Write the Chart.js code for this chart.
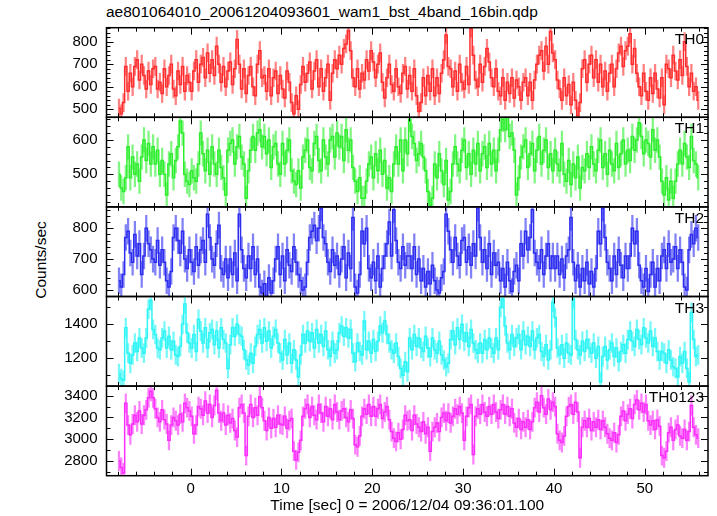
<!DOCTYPE html>
<html>
<head>
<meta charset="utf-8">
<script src="https://cdn.jsdelivr.net/npm/chart.js@4.4.0/dist/chart.umd.min.js"></script>
<style>
body { margin: 0; background: #fff; }
#wrap { position: relative; width: 717px; height: 516px; font-family: "Liberation Sans", Arial, sans-serif; color: #000; }
#wrap canvas { position: absolute; left: 0; top: 0; }
#title { position: absolute; left: 106px; top: 3px; font-size: 15.5px; white-space: nowrap; }
#ylab { position: absolute; left: 41px; top: 260px; font-size: 15.5px; white-space: nowrap; transform: translate(-50%, -50%) rotate(-90deg); }
</style>
</head>
<body>
<div id="wrap">
  <div id="title">ae801064010_20061204093601_wam1_bst_4band_16bin.qdp</div>
  <div id="ylab">Counts/sec</div>
  <canvas id="p0" width="717" height="516"></canvas>
  <canvas id="p1" width="717" height="516"></canvas>
  <canvas id="p2" width="717" height="516"></canvas>
  <canvas id="p3" width="717" height="516"></canvas>
  <canvas id="p4" width="717" height="516"></canvas>
</div>
<script>
// 0.25 s bins, first bin starts at -8 s (64 s of burst data)
var binStart = -8;
var binWidth = 0.25;

var th0 = [
  505, 480, 530, 690, 580, 660, 600, 690, 720, 630, 700, 650, 590, 670, 610, 680,
  690, 590, 620, 570, 680, 600, 650, 700, 590, 560, 670, 610, 690, 580, 650, 620,
  580, 670, 720, 620, 700, 730, 640, 750, 660, 720, 650, 780, 700, 620, 690, 600,
  670, 710, 610, 680, 810, 700, 590, 680, 570, 650, 690, 600, 560, 700, 760, 640,
  650, 580, 680, 560, 640, 670, 570, 650, 590, 550, 670, 620, 530, 480, 560, 500,
  610, 690, 620, 660, 710, 590, 670, 720, 600, 680, 580, 640, 700, 540, 660, 720,
  680, 740, 700, 770, 790, 850, 760, 640, 600, 680, 590, 660, 630, 720, 670, 760,
  710, 640, 700, 750, 620, 550, 640, 700, 610, 580, 680, 600, 570, 660, 690, 590,
  650, 580, 680, 560, 490, 530, 640, 560, 650, 580, 680, 560, 640, 570, 660, 720,
  830, 690, 680, 600, 670, 580, 700, 620, 590, 690, 610, 860, 740, 630, 600, 700,
  620, 690, 770, 710, 640, 600, 680, 580, 560, 640, 540, 620, 570, 640, 550, 630,
  600, 540, 620, 640, 560, 620, 540, 630, 700, 740, 760, 670, 780, 700, 845, 750,
  720, 630, 590, 540, 640, 560, 610, 520, 620, 540, 470, 530, 680, 720, 620, 700,
  740, 640, 720, 620, 700, 600, 670, 580, 660, 700, 600, 680, 750, 780, 690, 760,
  780, 835, 700, 770, 660, 600, 560, 660, 580, 540, 640, 570, 660, 590, 550, 640,
  520, 700, 680, 640, 740, 670, 630, 720, 650, 800, 690, 600, 660, 580, 600, 540
];

var th1 = [
  500, 460, 450, 490, 580, 490, 550, 500, 530, 480, 550, 600, 540, 590, 530, 580,
  530, 570, 500, 540, 500, 440, 530, 560, 490, 540, 580, 655, 620, 500, 480, 470,
  510, 490, 480, 530, 620, 560, 510, 570, 500, 580, 530, 500, 570, 520, 490, 440,
  570, 590, 600, 530, 580, 610, 550, 530, 430, 510, 570, 610, 570, 620, 630, 580,
  610, 560, 600, 520, 580, 590, 530, 500, 590, 530, 570, 600, 510, 480, 470, 510,
  460, 550, 570, 600, 520, 510, 590, 610, 540, 510, 600, 550, 530, 600, 610, 550,
  620, 580, 610, 540, 630, 570, 600, 520, 480, 450, 490, 430, 430, 480, 530, 550,
  490, 560, 510, 570, 500, 540, 460, 490, 450, 530, 580, 530, 600, 510, 600, 560,
  660, 610, 590, 540, 560, 590, 550, 510, 450, 410, 430, 530, 490, 560, 510, 470,
  540, 425, 450, 530, 580, 530, 510, 570, 600, 520, 560, 500, 570, 530, 590, 510,
  560, 580, 520, 590, 530, 570, 510, 570, 630, 660, 630, 665, 610, 620, 570, 440,
  490, 550, 580, 600, 520, 560, 590, 510, 570, 610, 530, 570, 600, 520, 560, 510,
  570, 530, 510, 590, 500, 480, 540, 470, 530, 490, 550, 460, 520, 510, 560, 520,
  580, 530, 510, 570, 600, 520, 560, 500, 570, 530, 510, 590, 520, 560, 600, 530,
  570, 540, 610, 570, 600, 650, 610, 560, 600, 590, 550, 630, 570, 600, 550, 480,
  440, 490, 425, 480, 430, 480, 530, 570, 530, 590, 550, 520, 610, 540, 530, 490
];

var th2 = [
  630, 610, 650, 770, 790, 720, 690, 780, 710, 750, 650, 710, 800, 750, 730, 700,
  690, 760, 680, 730, 690, 630, 610, 660, 770, 800, 760, 720, 790, 700, 670, 730,
  690, 660, 740, 680, 730, 760, 690, 845, 770, 700, 680, 750, 810, 670, 650, 700,
  640, 700, 650, 720, 630, 845, 730, 670, 640, 710, 670, 740, 650, 700, 610, 590,
  620, 580, 640, 590, 630, 700, 740, 650, 710, 630, 730, 680, 660, 740, 690, 650,
  630, 600, 610, 690, 770, 790, 810, 760, 800, 865, 770, 750, 690, 660, 730, 680,
  710, 650, 700, 740, 640, 720, 670, 835, 610, 590, 650, 790, 750, 800, 670, 640,
  690, 630, 710, 610, 670, 710, 750, 820, 710, 860, 760, 690, 670, 740, 680, 710,
  710, 670, 740, 650, 700, 630, 670, 610, 660, 620, 680, 630, 600, 590, 640, 660,
  845, 790, 730, 690, 770, 710, 680, 760, 770, 690, 740, 680, 750, 710, 865, 770,
  690, 730, 670, 750, 650, 720, 680, 690, 630, 670, 610, 690, 630, 595, 660, 680,
  630, 750, 710, 790, 730, 770, 860, 720, 690, 670, 730, 650, 710, 750, 670, 710,
  670, 710, 650, 700, 640, 710, 730, 835, 690, 630, 680, 610, 670, 630, 690, 620,
  660, 610, 670, 790, 750, 865, 770, 690, 670, 630, 710, 650, 730, 680, 640, 710,
  670, 710, 800, 750, 790, 680, 630, 610, 670, 595, 650, 690, 610, 670, 630, 710,
  730, 670, 750, 690, 700, 740, 670, 730, 690, 610, 600, 730, 780, 750, 800, 770
];

var th3 = [
  1110, 1080, 1070, 1380, 1230, 1170, 1220, 1290, 1240, 1320, 1260, 1230, 1320, 1490, 1540, 1370,
  1340, 1260, 1250, 1320, 1360, 1260, 1330, 1250, 1300, 1220, 1210, 1270, 1400, 1520, 1350, 1290,
  1260, 1340, 1240, 1430, 1360, 1290, 1380, 1260, 1350, 1370, 1280, 1360, 1260, 1380, 1310, 1290,
  1140, 1280, 1380, 1330, 1400, 1340, 1330, 1250, 1190, 1160, 1230, 1170, 1270, 1340, 1370, 1290,
  1380, 1300, 1360, 1260, 1330, 1370, 1290, 1230, 1190, 1310, 1220, 1290, 1170, 1250, 1190, 1090,
  1220, 1340, 1290, 1360, 1300, 1350, 1260, 1370, 1290, 1340, 1270, 1360, 1250, 1210, 1300, 1230,
  1250, 1350, 1390, 1330, 1380, 1320, 1370, 1230, 1180, 1290, 1240, 1220, 1420, 1250, 1300, 1230,
  1310, 1240, 1300, 1390, 1350, 1420, 1340, 1290, 1250, 1230, 1290, 1210, 1140, 1100, 1180, 1120,
  1320, 1250, 1340, 1270, 1320, 1260, 1240, 1330, 1260, 1210, 1320, 1250, 1230, 1300, 1220, 1190,
  1150, 1170, 1310, 1360, 1280, 1380, 1310, 1400, 1300, 1350, 1270, 1370, 1290, 1250, 1230, 1290,
  1230, 1310, 1250, 1320, 1260, 1230, 1320, 1250, 1500, 1550, 1390, 1290, 1250, 1340, 1270, 1320,
  1340, 1250, 1360, 1280, 1330, 1270, 1360, 1250, 1320, 1340, 1240, 1210, 1280, 1190, 1250, 1530,
  1440, 1260, 1220, 1280, 1200, 1290, 1230, 1220, 1550, 1310, 1250, 1220, 1300, 1240, 1310, 1260,
  1230, 1290, 1200, 1270, 1060, 1210, 1270, 1190, 1250, 1290, 1210, 1260, 1180, 1240, 1280, 1230,
  1310, 1360, 1300, 1270, 1370, 1310, 1280, 1380, 1320, 1290, 1360, 1270, 1320, 1240, 1190, 1240,
  1230, 1170, 1250, 1190, 1150, 1140, 1090, 1210, 1170, 1240, 1140, 1060, 1470, 1310, 1210, 1220
];

var th0123 = [
  2800, 2740, 2690, 3330, 3130, 3040, 3140, 3220, 3160, 3260, 3140, 3220, 3270, 3380, 3440, 3380,
  3280, 3200, 3160, 3270, 3180, 3140, 2990, 3130, 3200, 3170, 3130, 3230, 3160, 3330, 3290, 3260,
  3210, 3050, 3130, 3300, 3280, 3220, 3350, 3240, 3320, 3200, 3310, 3450, 3240, 3170, 3240, 3130,
  3220, 3150, 3190, 3080, 3020, 3290, 3320, 3240, 2850, 3210, 3320, 3200, 3290, 3220, 3390, 3290,
  3170, 3080, 3200, 3100, 3190, 3110, 3220, 3140, 3130, 3210, 3100, 3170, 3190, 2890, 2810, 2880,
  2990, 3210, 3280, 3320, 3200, 3300, 3220, 3180, 3320, 3240, 3160, 3300, 3210, 3280, 3180, 3320,
  3250, 3180, 3260, 3280, 3200, 3160, 3270, 3190, 2950, 2930, 3030, 3210, 3280, 3230, 3320, 3210,
  3300, 3210, 3280, 3320, 3190, 3250, 3300, 3180, 3070, 3010, 2980, 3060, 3000, 3090, 3220, 3170,
  3180, 3080, 3220, 3140, 3110, 3070, 3160, 3050, 3110, 2890, 3070, 3110, 3150, 3070, 3200, 3240,
  3170, 3240, 3150, 3210, 3280, 3230, 3300, 3240, 2990, 3210, 3290, 3320, 2860, 3210, 3280, 3230,
  3320, 3250, 3210, 3300, 3230, 3320, 3250, 3190, 3270, 3320, 3230, 3300, 3210, 3280, 3150, 3110,
  3190, 3090, 3160, 3110, 3180, 3090, 3160, 3290, 3340, 3250, 3400, 3290, 3230, 3370, 3270, 3340,
  3300, 3050, 2990, 2970, 3030, 3210, 3300, 3320, 3230, 3340, 3250, 2830, 3110, 3170, 3110, 3190,
  3080, 3160, 3110, 3180, 3090, 3170, 3110, 3050, 3010, 2990, 3060, 2970, 3040, 3210, 3260, 3170,
  3230, 3280, 3190, 3320, 3360, 3270, 3330, 3250, 3320, 3170, 3130, 3170, 3090, 3180, 3120, 2850,
  2830, 2890, 3060, 3110, 2990, 3090, 3130, 3030, 3010, 3090, 2990, 3070, 3310, 3110, 3040, 3010
];

// typical 1-sigma error bar size (counts/sec)
var errors = [40, 36, 42, 56, 88];

var panelNames = ["TH0", "TH1", "TH2", "TH3", "TH0123"];
var panelColors = ["rgb(255,45,45)", "rgb(45,238,45)", "rgb(45,45,240)", "rgb(45,245,245)", "rgb(250,45,250)"];
var barColors = ["rgba(255,45,45,0.6)", "rgba(45,238,45,0.6)", "rgba(45,45,240,0.6)", "rgba(45,245,245,0.65)", "rgba(250,45,250,0.6)"];

var xTicks = [0, 10, 20, 30, 40, 50];
var th0Ticks = [500, 600, 700, 800];
var th1Ticks = [500, 600];
var th2Ticks = [600, 700, 800];
var th3Ticks = [1200, 1400];
var th0123Ticks = [2800, 3000, 3200, 3400];

var tickFont = { family: "'Liberation Sans', Arial, sans-serif", size: 15 };

// inward ticks on all four sides, frame box and panel name
var qdpFrame = {
    id: 'qdpFrame',
    afterDraw: function(chart, args, opts) {
        var ctx = chart.ctx;
        var a = chart.chartArea;
        var xs = chart.scales.x;
        var ys = chart.scales.y;
        ctx.save();
        ctx.strokeStyle = '#000';
        ctx.lineWidth = 1;
        ctx.beginPath();
        for (var v = -8; v <= 56; v += 2) {
            var px = Math.round(xs.getPixelForValue(v)) + 0.5;
            var len = (v % 10 === 0) ? 7 : 4;
            ctx.moveTo(px, a.bottom); ctx.lineTo(px, a.bottom - len);
            ctx.moveTo(px, a.top); ctx.lineTo(px, a.top + len);
        }
        var start = Math.ceil(ys.min / opts.minor) * opts.minor;
        for (var w = start; w <= ys.max; w += opts.minor) {
            var py = Math.round(ys.getPixelForValue(w)) + 0.5;
            var l2 = (w % opts.major === 0) ? 7 : 4;
            ctx.moveTo(a.left, py); ctx.lineTo(a.left + l2, py);
            ctx.moveTo(a.right, py); ctx.lineTo(a.right - l2, py);
        }
        ctx.stroke();
        ctx.lineWidth = 1.5;
        ctx.strokeRect(a.left, a.top, a.right - a.left, a.bottom - a.top);
        ctx.fillStyle = '#000';
        ctx.font = "15.5px 'Liberation Sans', Arial, sans-serif";
        ctx.textAlign = 'right';
        ctx.textBaseline = 'alphabetic';
        ctx.fillText(opts.label, a.right - 4, a.top + 16);
        ctx.restore();
    }
};

function makePanel(id, vals, err, color, barColor, yMin, yMax, yTicks, minor, major, name, top, bottom, showX) {
    var pts = [];
    var bars = [];
    for (var i = 0; i < vals.length; i++) {
        var t = binStart + binWidth * (i + 0.5);
        pts.push({x: t, y: vals[i]});
        bars.push({x: t, y: [vals[i] - err, vals[i] + err]});
    }
    return new Chart(document.getElementById(id), {
        data: {
            datasets: [
                { type: 'line', data: pts, borderColor: color, borderWidth: 1.5,
                  pointRadius: 0, stepped: 'middle', order: 0, clip: 0 },
                { type: 'bar', data: bars, backgroundColor: barColor, borderWidth: 0,
                  barThickness: 1.6, grouped: false, order: 1, clip: 0 }
            ]
        },
        options: {
            responsive: false,
            animation: false,
            devicePixelRatio: 1,
            layout: { padding: { left: 0, right: 9, top: top, bottom: showX ? 0 : 516 - bottom } },
            plugins: {
                legend: { display: false },
                tooltip: { enabled: false },
                qdpFrame: { label: name, minor: minor, major: major }
            },
            scales: {
                x: {
                    type: 'linear', min: -9.25, max: 56.95, display: showX, offset: false,
                    grid: { display: false, drawTicks: false, offset: false },
                    border: { display: false },
                    afterBuildTicks: function(s) { s.ticks = xTicks.map(function(v) { return {value: v}; }); },
                    afterFit: function(s) { s.height = showX ? 516 - bottom : 0; },
                    ticks: { color: '#000', font: tickFont, padding: 4, maxRotation: 0, autoSkip: false,
                             callback: function(v) { return String(v); } },
                    title: { display: true, text: 'Time [sec] 0 = 2006/12/04 09:36:01.100', color: '#000',
                             font: { family: "'Liberation Sans', Arial, sans-serif", size: 15.5 },
                             padding: { top: 0, bottom: 1 } }
                },
                y: {
                    type: 'linear', min: yMin, max: yMax,
                    grid: { display: false, drawTicks: false },
                    border: { display: false },
                    afterBuildTicks: function(s) { s.ticks = yTicks.map(function(v) { return {value: v}; }); },
                    afterFit: function(s) { s.width = 106.5; },
                    ticks: { color: '#000', font: tickFont, padding: 9, autoSkip: false,
                             callback: function(v) { return String(v); } }
                }
            }
        },
        plugins: [qdpFrame]
    });
}

var edges = [27.7, 117.3, 206.9, 296.5, 386.1, 475.7];

makePanel('p0', th0, errors[0], panelColors[0], barColors[0], 464.5, 862, th0Ticks, 20, 100, panelNames[0], edges[0], edges[1], false);
makePanel('p1', th1, errors[1], panelColors[1], barColors[1], 405, 666, th1Ticks, 20, 100, panelNames[1], edges[1], edges[2], false);
makePanel('p2', th2, errors[2], panelColors[2], barColors[2], 579, 869, th2Ticks, 20, 100, panelNames[2], edges[2], edges[3], false);
makePanel('p3', th3, errors[3], panelColors[3], barColors[3], 1036, 1564, th3Ticks, 100, 200, panelNames[3], edges[3], edges[4], false);
makePanel('p4', th0123, errors[4], panelColors[4], barColors[4], 2665, 3488, th0123Ticks, 100, 200, panelNames[4], edges[4], edges[5], true);
</script>
</body>
</html>
